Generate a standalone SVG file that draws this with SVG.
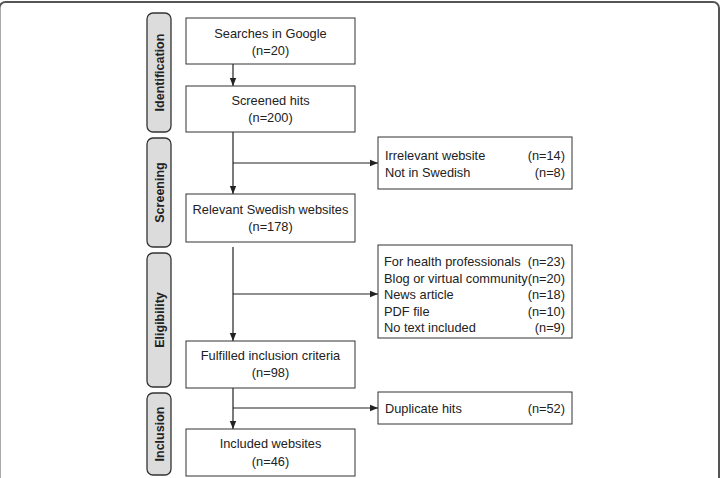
<svg xmlns="http://www.w3.org/2000/svg" width="723" height="478" viewBox="0 0 723 478">
<style>
.box{fill:#fff;stroke:#333;stroke-width:1}
.lab{fill:#dcdcdc;stroke:#333;stroke-width:1.3}
.t{font-family:"Liberation Sans",Arial,sans-serif;font-size:12.8px;fill:#222}
.c{text-anchor:middle}
.e{text-anchor:end}
.lt{font-family:"Liberation Sans",Arial,sans-serif;font-size:12.5px;font-weight:bold;fill:#222;text-anchor:middle}
.ln{fill:none;stroke:#222;stroke-width:1.2}
</style>
<defs>
<marker id="ah" viewBox="0 0 8 8" refX="8" refY="4" markerWidth="8" markerHeight="8" markerUnits="userSpaceOnUse" orient="auto">
<path d="M0,0.8 L8,4 L0,7.2 Z" fill="#222"/>
</marker>
</defs>
<rect x="-0.5" y="2" width="719.5" height="490" rx="6" fill="none" stroke="#555" stroke-width="2"/>

<g id="label-identification"><rect class="lab" x="147" y="13" width="24" height="119" rx="6"/><text class="lt" transform="translate(163.5,72.5) rotate(-90)">Identification</text></g>
<g id="label-screening"><rect class="lab" x="147" y="138" width="24" height="109" rx="6"/><text class="lt" transform="translate(163.5,192.5) rotate(-90)">Screening</text></g>
<g id="label-eligibility"><rect class="lab" x="147" y="253" width="24" height="134" rx="6"/><text class="lt" transform="translate(163.5,320) rotate(-90)">Eligibility</text></g>
<g id="label-inclusion"><rect class="lab" x="147" y="393" width="24" height="82" rx="6"/><text class="lt" transform="translate(163.5,434) rotate(-90)">Inclusion</text></g>

<g id="connectors">
<line class="ln" x1="233" y1="64" x2="233" y2="86" marker-end="url(#ah)"/>
<line class="ln" x1="233" y1="132" x2="233" y2="194" marker-end="url(#ah)"/>
<line class="ln" x1="233" y1="163" x2="378" y2="163" marker-end="url(#ah)"/>
<line class="ln" x1="233" y1="247" x2="233" y2="341" marker-end="url(#ah)"/>
<line class="ln" x1="233" y1="294" x2="378" y2="294" marker-end="url(#ah)"/>
<line class="ln" x1="233" y1="388" x2="233" y2="429" marker-end="url(#ah)"/>
<line class="ln" x1="233" y1="408" x2="378" y2="408" marker-end="url(#ah)"/>
</g>

<g id="searches"><rect class="box" x="186" y="18" width="169" height="46"/><text class="t c" x="270.5" y="38">Searches in Google</text><text class="t c" x="270.5" y="55">(n=20)</text></g>
<g id="screened"><rect class="box" x="186" y="86" width="169" height="46"/><text class="t c" x="270.5" y="105">Screened hits</text><text class="t c" x="270.5" y="122">(n=200)</text></g>
<g id="relevant"><rect class="box" x="186" y="194" width="169" height="48"/><text class="t c" x="270.5" y="214">Relevant Swedish websites</text><text class="t c" x="270.5" y="231">(n=178)</text></g>
<g id="fulfilled"><rect class="box" x="186" y="341" width="169" height="47"/><text class="t c" x="270.5" y="360">Fulfilled inclusion criteria</text><text class="t c" x="270.5" y="377">(n=98)</text></g>
<g id="included"><rect class="box" x="186" y="429" width="169" height="47"/><text class="t c" x="270.5" y="448">Included websites</text><text class="t c" x="270.5" y="466">(n=46)</text></g>

<g id="excluded-screening"><rect class="box" x="378" y="137" width="194" height="52"/>
<text class="t" x="385" y="160">Irrelevant website</text><text class="t e" x="565" y="160">(n=14)</text>
<text class="t" x="385" y="177">Not in Swedish</text><text class="t e" x="565" y="177">(n=8)</text></g>

<g id="excluded-eligibility"><rect class="box" x="378" y="245" width="194" height="93"/>
<text class="t" x="384" y="266">For health professionals</text><text class="t e" x="565" y="266">(n=23)</text>
<text class="t" x="384" y="283">Blog or virtual community</text><text class="t e" x="565" y="283">(n=20)</text>
<text class="t" x="384" y="299">News article</text><text class="t e" x="565" y="299">(n=18)</text>
<text class="t" x="384" y="316">PDF file</text><text class="t e" x="565" y="316">(n=10)</text>
<text class="t" x="384" y="332">No text included</text><text class="t e" x="565" y="332">(n=9)</text></g>

<g id="duplicates"><rect class="box" x="378" y="392" width="194" height="32"/>
<text class="t" x="385" y="413">Duplicate hits</text><text class="t e" x="565" y="413">(n=52)</text></g>
</svg>
